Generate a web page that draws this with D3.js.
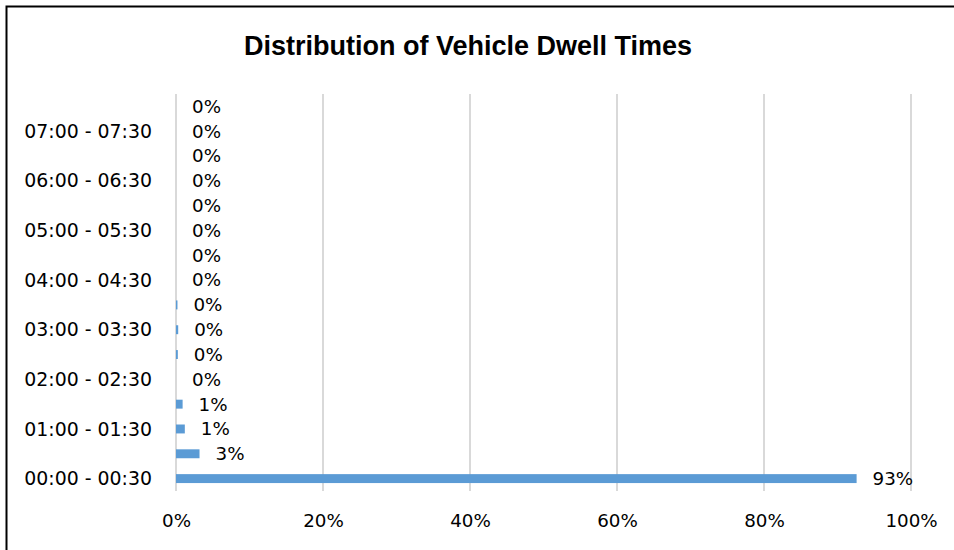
<!DOCTYPE html>
<html>
<head>
<meta charset="utf-8">
<script src="https://cdn.jsdelivr.net/npm/d3@7"></script>
<style>
  html, body { margin: 0; padding: 0; background: #fff; }
  svg { display: block; }
  text { font-family: "DejaVu Sans", sans-serif; fill: #000; }
</style>
</head>
<body>
<svg id="chart" width="954" height="550"></svg>
<script>
// Half-hour dwell-time buckets, bottom to top
const categories = [
  "00:00 - 00:30", "00:30 - 01:00", "01:00 - 01:30", "01:30 - 02:00",
  "02:00 - 02:30", "02:30 - 03:00", "03:00 - 03:30", "03:30 - 04:00",
  "04:00 - 04:30", "04:30 - 05:00", "05:00 - 05:30", "05:30 - 06:00",
  "06:00 - 06:30", "06:30 - 07:00", "07:00 - 07:30", "07:30 - 08:00"
];
// Share of vehicles in each bucket
const shares = [
  0.926, 0.032, 0.012, 0.009,
  0.000, 0.0025, 0.003, 0.002,
  0, 0, 0, 0,
  0, 0, 0, 0
];
const xTicks = [0, 0.2, 0.4, 0.6, 0.8, 1.0];
const titleText = "Distribution of Vehicle Dwell Times";

const svg = d3.select("#chart");
const plot = { left: 176, right: 911, top: 94, bottom: 491 };

// Outer frame
svg.append("rect")
  .attr("x", 6.5).attr("y", 6.5)
  .attr("width", 1000).attr("height", 600)
  .attr("fill", "none").attr("stroke", "#000").attr("stroke-width", 2);

// Title
svg.append("text")
  .attr("x", 468).attr("y", 55)
  .attr("text-anchor", "middle")
  .style("font-family", "'Liberation Sans', Arial, sans-serif")
  .style("font-weight", "bold")
  .style("font-size", "27px")
  .text(titleText);

const x = d3.scaleLinear().domain([0, 1]).range([plot.left, plot.right]);
const y = d3.scaleBand()
  .domain(categories)
  .range([plot.bottom, plot.top])
  .paddingInner(0.64)
  .paddingOuter(0.32);

// Vertical gridlines
svg.append("g")
  .selectAll("line")
  .data(xTicks)
  .join("line")
  .attr("x1", d => x(d)).attr("x2", d => x(d))
  .attr("y1", plot.top).attr("y2", plot.bottom)
  .attr("stroke", "#d9d9d9").attr("stroke-width", 2);

// Bottom axis labels
const xAxis = svg.append("g")
  .attr("transform", `translate(0,${plot.bottom})`)
  .call(d3.axisBottom(x).tickValues(xTicks).tickFormat(d3.format(".0%")).tickSize(0));
xAxis.select(".domain").remove();
xAxis.selectAll("text")
  .attr("y", 30).attr("dy", "0.35em")
  .style("font-size", "18.3px")
  .style("font-family", "'DejaVu Sans', sans-serif")
  .attr("fill", "#000");

// Left axis labels (every other bucket)
const yAxis = svg.append("g")
  .attr("transform", `translate(${plot.left},0)`)
  .call(d3.axisLeft(y)
    .tickValues(categories.filter((d, i) => i % 2 === 0))
    .tickSize(0).tickPadding(24));
yAxis.select(".domain").remove();
yAxis.selectAll("text")
  .attr("dy", "0.35em")
  .style("font-size", "18.9px")
  .style("font-family", "'DejaVu Sans', sans-serif")
  .attr("fill", "#000");

// Bars
const rows = categories.map((c, i) => ({ cat: c, v: shares[i] }));
svg.append("g")
  .selectAll("rect")
  .data(rows)
  .join("rect")
  .attr("x", x(0))
  .attr("y", d => y(d.cat))
  .attr("width", d => x(d.v) - x(0))
  .attr("height", y.bandwidth())
  .attr("fill", "#5b9bd5");

// Value labels
const fmt = d3.format(".0%");
svg.append("g")
  .selectAll("text")
  .data(rows)
  .join("text")
  .attr("x", d => x(d.v) + 16)
  .attr("y", d => y(d.cat) + y.bandwidth() / 2)
  .attr("dy", "0.35em")
  .style("font-size", "18.3px")
  .text(d => fmt(d.v));
</script>
</body>
</html>
